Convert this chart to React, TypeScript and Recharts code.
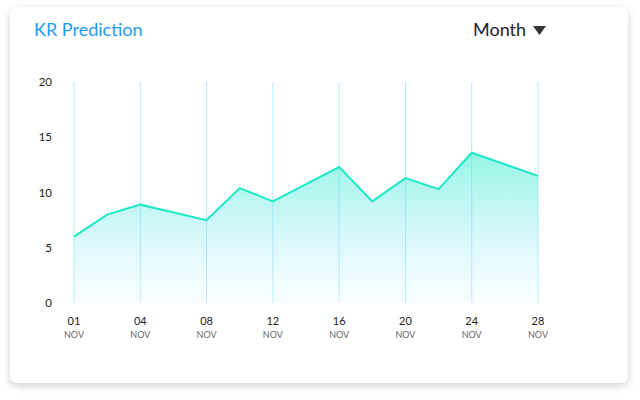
import React from "react";
import { AreaChart, Area, XAxis, YAxis, CartesianGrid } from "recharts";

const positions = [0, 1, 2, 4, 5, 6, 8, 9, 10, 11, 12, 14];
const values = [6.0, 8.0, 8.9, 7.5, 10.4, 9.2, 12.3, 9.2, 11.3, 10.3, 13.6, 11.5];
const dayLabels = ["01", "04", "08", "12", "16", "20", "24", "28"];
const dayTicks = [0, 2, 4, 6, 8, 10, 12, 14];
const monthLabel = "NOV";
const yTicks = [0, 5, 10, 15, 20];

const data = positions.map((p, i) => ({ x: p, value: values[i] }));

const FONT = "Lato, 'Open Sans', sans-serif";

const XTick = (props: any) => {
  const { x, y, payload } = props;
  const idx = dayTicks.indexOf(payload.value);
  return (
    <g>
      <text x={x} y={y + 22} textAnchor="middle" fontSize={11} fill="#222" fontFamily={FONT}>
        {dayLabels[idx]}
      </text>
      <text x={x} y={y + 34.5} textAnchor="middle" fontSize={9} fill="#666" fontFamily={FONT}>
        {monthLabel}
      </text>
    </g>
  );
};

export default function App() {
  return (
    <div style={{ position: "absolute", left: 0, top: 0, width: 640, height: 400, background: "#fff", fontFamily: FONT }}>
      <div
        style={{
          position: "absolute",
          left: 10,
          top: 7,
          width: 618,
          height: 376,
          background: "#fff",
          borderRadius: 7,
          boxShadow: "0 3px 8px rgba(0,0,0,0.18)",
        }}
      />
      <div style={{ position: "absolute", left: 34, top: 18, fontSize: 18, color: "#1e9bf0", lineHeight: "22px" }}>
        KR Prediction
      </div>
      <div style={{ position: "absolute", left: 473, top: 18, fontSize: 18, color: "#222", lineHeight: "22px" }}>
        Month
      </div>
      <svg style={{ position: "absolute", left: 533, top: 26 }} width={14} height={10}>
        <polygon points="0,0 13,0 6.5,9" fill="#333" />
      </svg>
      <div style={{ position: "absolute", left: 0, top: 0 }}>
        <AreaChart width={640} height={400} data={data} margin={{ top: 82, right: 102, bottom: 0, left: 0 }}>
          <defs>
            <linearGradient id="krFill" x1="0" y1="0" x2="0" y2="1">
              <stop offset="0%" stopColor="#3cefcc" stopOpacity={0.55} />
              <stop offset="60%" stopColor="#7fe6f5" stopOpacity={0.28} />
              <stop offset="100%" stopColor="#e0fbff" stopOpacity={0.2} />
            </linearGradient>
          </defs>
          <CartesianGrid horizontal={false} stroke="#b3ecf7" strokeWidth={1} />
          <XAxis
            type="number"
            dataKey="x"
            domain={[0, 14]}
            ticks={dayTicks}
            interval={0}
            axisLine={false}
            tickLine={false}
            tickSize={0}
            tickMargin={0}
            height={97}
            tick={<XTick />}
          />
          <YAxis
            domain={[0, 20]}
            ticks={yTicks}
            interval={0}
            axisLine={false}
            tickLine={false}
            tickSize={0}
            tickMargin={22}
            width={74}
            tick={{ fontSize: 11.5, fill: "#222", fontFamily: FONT }}
          />
          <Area
            type="linear"
            dataKey="value"
            stroke="#1de8c6"
            strokeWidth={2}
            fill="url(#krFill)"
            fillOpacity={1}
            dot={false}
            activeDot={false}
            isAnimationActive={false}
          />
        </AreaChart>
      </div>
    </div>
  );
}
